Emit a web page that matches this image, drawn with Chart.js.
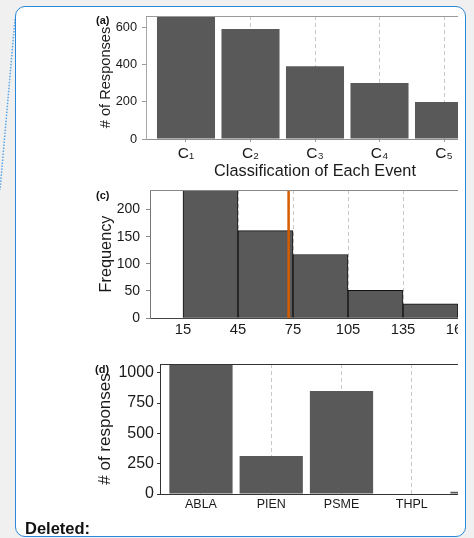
<!DOCTYPE html>
<html><head><meta charset="utf-8">
<script src="https://cdn.jsdelivr.net/npm/chart.js@4.4.1/dist/chart.umd.min.js"></script>
<style>
html,body{margin:0;padding:0;background:#f0f0f0;}
#root{position:relative;width:474px;height:538px;overflow:hidden;background:#f0f0f0;font-family:'Liberation Sans',Arial,Helvetica,sans-serif;}
#frame{position:absolute;left:15px;top:6px;width:451px;height:531px;box-sizing:border-box;border:1.5px solid #2b88d8;border-radius:10px;background:#fff;}
#clip{position:absolute;left:0;top:0;width:458px;height:538px;overflow:hidden;}
canvas{position:absolute;}
.tag{position:absolute;font-weight:bold;font-size:11px;line-height:1;color:#111;}
#deleted{position:absolute;left:25px;top:519.5px;font-weight:bold;font-size:16.5px;line-height:1;color:#111;}
svg{position:absolute;left:0;top:0;}
</style></head>
<body>
<div id="root">
  <svg width="30" height="200"><line x1="15" y1="19" x2="0" y2="190" stroke="#5aa5e6" stroke-width="1.5" stroke-dasharray="1.5 1.5"/></svg>
  <div id="frame"></div>
  <div id="clip">
    <canvas id="ca" width="460" height="182" style="left:40px;top:8px"></canvas>
    <canvas id="cc" width="460" height="162" style="left:40px;top:184px"></canvas>
    <canvas id="cd" width="500" height="172" style="left:40px;top:356px"></canvas>
    <div class="tag" style="left:96px;top:14.6px">(a)</div>
    <div class="tag" style="left:96px;top:189.6px">(c)</div>
    <div class="tag" style="left:95px;top:363.6px">(d)</div>
  </div>
  <div id="deleted">Deleted:</div>
</div>
<script>
// ---- Panel (a) ----
const A_CATS = ['C\u2081','C\u2082','C\u2083','C\u2084','C\u2085'];
const A_POS = [1,2,3,4,5];
const A_VALUES = [700, 590, 391, 300, 198];
const A_Y_TICKS = [0,200,400,600];
// ---- Panel (c) ----
const C_BIN_EDGES = [15,45,75,105,135,165];
const C_FREQ = [262, 161, 117, 51, 26];
const C_X_TICKS = [15,45,75,105,135,165];
const C_Y_TICKS = [0,50,100,150,200];
const C_MEAN = [72.6];
// ---- Panel (d) ----
const D_CATS = ['ABLA','PIEN','PSME','THPL','TSHE'];
const D_POS = [1,2,3,4,5];
const D_VALUES = [1100, 313, 849, 0, 19];
const D_Y_TICKS = [0,250,500,750,1000];

Chart.defaults.font.family = "'Liberation Sans', Arial, Helvetica, sans-serif";
Chart.defaults.color = '#1a1a1a';

const topLine = {
  id: 'topLine',
  afterDatasetsDraw(chart, args, opts) {
    const {ctx, chartArea: a} = chart;
    ctx.save();
    ctx.strokeStyle = opts.color || '#999';
    ctx.lineWidth = 1;
    ctx.beginPath();
    ctx.moveTo(a.left, a.top + 0.5);
    ctx.lineTo(a.right, a.top + 0.5);
    ctx.stroke();
    ctx.restore();
  }
};
Chart.register(topLine);

function fix(w, h) {
  return (s) => {
    if (w != null) s.width = w;
    if (h != null) s.height = h;
    s.paddingLeft = 0; s.paddingRight = 0; s.paddingTop = 0; s.paddingBottom = 0;
  };
}
function setTicks(arr) { return (s) => { s.ticks = arr.map(v => ({value: v})); }; }
const base = {responsive:false, animation:false, events:[]};

// (a)
new Chart(document.getElementById('ca'), {
  type: 'bar',
  data: {datasets: [{
    data: A_POS.map((x, i) => ({x, y: A_VALUES[i]})),
    backgroundColor: '#595959', borderWidth: 0,
    categoryPercentage: 1, barPercentage: 0.9, clip: 0
  }]},
  options: Object.assign({}, base, {
    layout: {padding: {top: 8, right: 16, left: 0, bottom: 0}},
    plugins: {legend: {display: false}, tooltip: {enabled: false}, topLine: {color: '#9a9a9a'}},
    scales: {
      x: {
        type: 'linear', min: 0.38, max: 5.62, bounds: 'data', offset: false,
        afterBuildTicks: setTicks(A_POS), afterFit: fix(null, 51),
        grid: {color: '#c8c8c8', offset: false, drawTicks: true, tickLength: 3, tickColor: '#999'},
        border: {display: true, color: '#8f8f8f', dash: [4, 3]},
        ticks: {autoSkip: false, maxRotation: 0, padding: 2, font: {size: 15.5}, color: '#1a1a1a',
                callback: (v) => A_CATS[Math.round(v) - 1]},
        title: {display: true, text: 'Classification of Each Event', font: {size: 16.3}, color: '#1a1a1a', padding: {top: 0, bottom: 9.2}}
      },
      y: {
        type: 'linear', min: 0, max: 660, bounds: 'data',
        afterBuildTicks: setTicks(A_Y_TICKS), afterFit: fix(106, null),
        grid: {drawOnChartArea: false, drawTicks: true, tickLength: 4, tickColor: '#999'},
        border: {display: true, color: '#a8a8a8'},
        ticks: {padding: 5, font: {size: 12.8}, color: '#1a1a1a', callback: (v) => String(v)},
        title: {display: true, text: '# of Responses', font: {size: 14.6}, color: '#1a1a1a', padding: {top: 57.2, bottom: 0}}
      }
    }
  })
});

// (c)
const C_CENTERS = C_BIN_EDGES.slice(0, -1).map((e, i) => (e + C_BIN_EDGES[i + 1]) / 2);
new Chart(document.getElementById('cc'), {
  type: 'bar',
  data: {datasets: [
    {type: 'line', data: [{x: C_MEAN[0], y: 0}, {x: C_MEAN[0], y: 300}], borderColor: '#d55e00', borderWidth: 2.5,
     pointRadius: 0, fill: false, clip: 0},
    {data: C_CENTERS.map((x, i) => ({x, y: C_FREQ[i]})), backgroundColor: '#595959', borderColor: '#111',
     borderWidth: 1, borderSkipped: false, categoryPercentage: 1, barPercentage: 1, clip: 0}
  ]},
  options: Object.assign({}, base, {
    layout: {padding: {top: 6, right: 9, left: 0, bottom: 0}},
    plugins: {legend: {display: false}, tooltip: {enabled: false}, topLine: {color: '#8a8a8a'}},
    scales: {
      x: {
        type: 'linear', min: -3, max: 183, bounds: 'data', offset: false,
        afterBuildTicks: setTicks(C_X_TICKS), afterFit: fix(null, 28),
        grid: {color: '#c8c8c8', offset: false, drawTicks: false},
        border: {display: true, color: '#444', dash: [4, 3]},
        ticks: {autoSkip: false, maxRotation: 0, padding: 3.5, font: {size: 14.8}, color: '#1a1a1a', callback: (v) => String(v)}
      },
      y: {
        type: 'linear', min: 0, max: 236, bounds: 'data',
        afterBuildTicks: setTicks(C_Y_TICKS), afterFit: fix(110, null),
        grid: {drawOnChartArea: false, drawTicks: true, tickLength: 4, tickColor: '#888'},
        border: {display: true, color: '#777'},
        ticks: {padding: 6, font: {size: 14}, color: '#1a1a1a', callback: (v) => String(v)},
        title: {display: true, text: 'Frequency', font: {size: 16.3}, color: '#1a1a1a', padding: {top: 57.2, bottom: 0}}
      }
    }
  })
});

// (d)
new Chart(document.getElementById('cd'), {
  type: 'bar',
  data: {datasets: [{
    data: D_POS.map((x, i) => ({x, y: D_VALUES[i]})),
    backgroundColor: '#595959', borderWidth: 0,
    categoryPercentage: 1, barPercentage: 0.9, clip: 0
  }]},
  options: Object.assign({}, base, {
    layout: {padding: {top: 8, right: 17, left: 0, bottom: 0}},
    plugins: {legend: {display: false}, tooltip: {enabled: false}, topLine: {color: '#333'}},
    scales: {
      x: {
        type: 'linear', min: 0.417, max: 5.583, bounds: 'data', offset: false,
        afterBuildTicks: setTicks(D_POS), afterFit: fix(null, 34),
        grid: {color: '#c8c8c8', offset: false, drawTicks: false},
        border: {display: true, color: '#333', dash: [4, 3]},
        ticks: {autoSkip: false, maxRotation: 0, padding: 3, font: {size: 12.5}, color: '#1a1a1a',
                callback: (v) => D_CATS[Math.round(v) - 1]}
      },
      y: {
        type: 'linear', min: 0, max: 1072, bounds: 'data',
        afterBuildTicks: setTicks(D_Y_TICKS), afterFit: fix(120, null),
        grid: {drawOnChartArea: false, drawTicks: true, tickLength: 3, tickColor: '#333'},
        border: {display: true, color: '#333'},
        ticks: {padding: 3, font: {size: 16}, color: '#1a1a1a', callback: (v) => String(v)},
        title: {display: true, text: '# of responses', font: {size: 17}, color: '#1a1a1a', padding: {top: 54.8, bottom: 0}}
      }
    }
  })
});
</script>
</body></html>
